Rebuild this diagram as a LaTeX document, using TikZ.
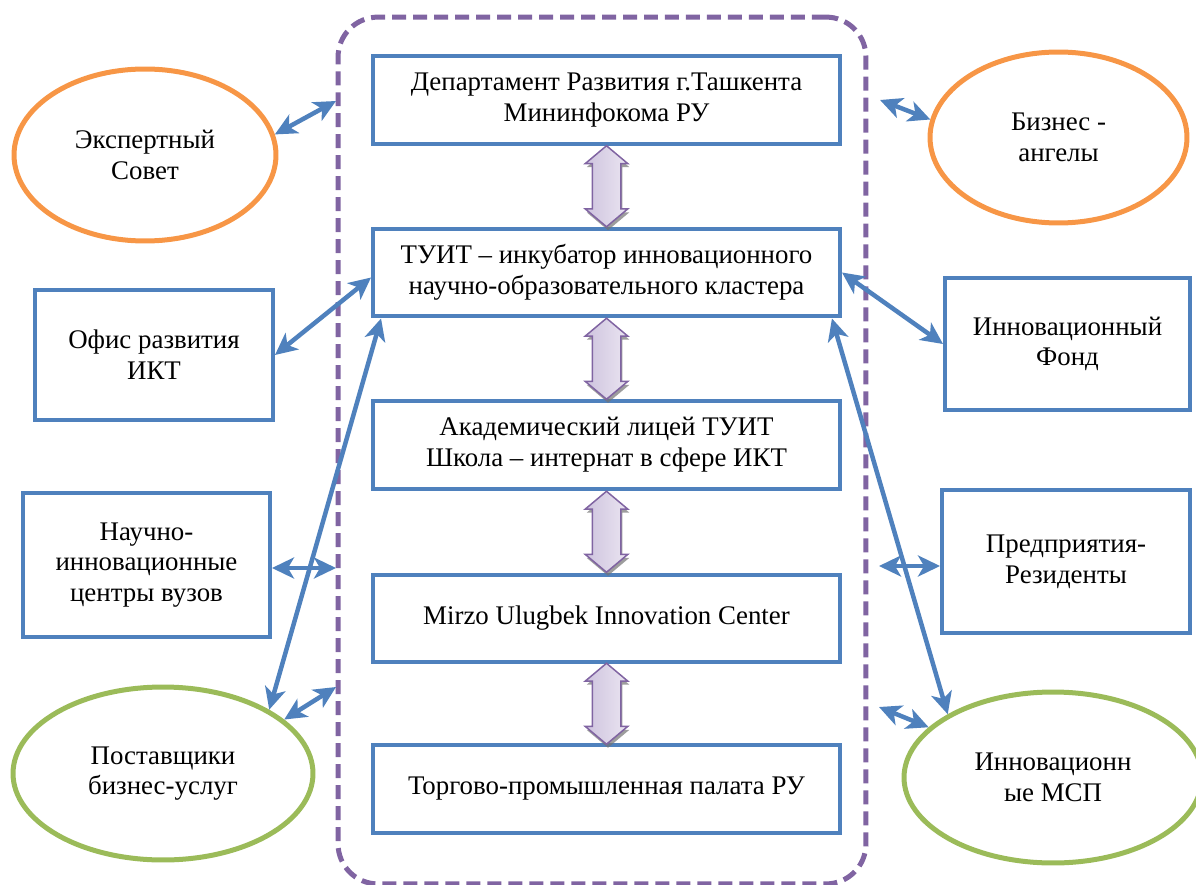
\documentclass[tikz,border=0pt]{standalone}
\usepackage{fontspec}
\setmainfont{Liberation Serif}
\usetikzlibrary{shapes.geometric,shapes.arrows,arrows.meta,shadows,calc}

\begin{document}
\begin{tikzpicture}[x=0.02cm, y=-0.02cm,
    every node/.style={font=\fontsize{15.3}{17.5}\selectfont, align=center},
    unitbox/.style={draw=boxcolor, line width=0.08cm, minimum width=9.34cm, minimum height=1.76cm},
    sidebox/.style={draw=boxcolor, line width=0.08cm},
    partner/.style={ellipse, line width=0.1cm, inner sep=0pt},
    link/.style={boxcolor, line width=0.09cm,
        {Stealth[length=0.44cm,width=0.42cm,inset=0.12cm]}-{Stealth[length=0.44cm,width=0.42cm,inset=0.12cm]}},
    updown/.style={double arrow, rotate=90, draw=framecolor, line width=0.03cm,
        minimum height=1.62cm, minimum width=0pt, inner xsep=0pt, inner ysep=0.27cm,
        double arrow head extend=0.14cm, double arrow tip angle=100,
        left color=lavdark, right color=lavlight,
        drop shadow={shadow xshift=0.03cm, shadow yshift=-0.07cm, fill=black!55, opacity=0.7}}
]
    % Define colors
    \definecolor{boxcolor}{RGB}{79, 129, 189}
    \definecolor{framecolor}{RGB}{128, 100, 162}
    \definecolor{advcolor}{RGB}{247, 150, 70}
    \definecolor{smecolor}{RGB}{155, 187, 89}
    \definecolor{lavlight}{RGB}{234, 229, 241}
    \definecolor{lavdark}{RGB}{206, 195, 222}

    \useasboundingbox (0,0) rectangle (1196,885);

    % Dashed frame of the cluster
    \node[draw=framecolor, line width=0.1cm, dash pattern=on 0.28cm off 0.14cm,
          rounded corners=0.8cm, minimum width=10.56cm, minimum height=17.34cm] (cluster) at (602,450.5) {};

    % Central column
    \node[unitbox] (dep) at (606.5,100) {Департамент Развития г.Ташкента\\Мининфокома РУ};
    \node[unitbox] (tuit) at (606.5,272.5) {ТУИТ – инкубатор инновационного\\научно-образовательного кластера};
    \node[unitbox] (lyc) at (606.5,445) {Академический лицей ТУИТ\\Школа – интернат в сфере ИКТ};
    \node[unitbox] (muic) at (606.5,618.5) {Mirzo Ulugbek Innovation Center};
    \node[unitbox] (tpp) at (606.5,789) {Торгово-промышленная палата РУ};

    % Arrows between the units
    \foreach \a/\b in {dep/tuit, tuit/lyc, lyc/muic, muic/tpp}
        \node[updown] (\a-\b) at ($(\a.south)!0.5!(\b.north)$) {};

    % Left partners
    \node[partner, draw=advcolor, minimum width=5.24cm, minimum height=3.44cm] (exp) at (145,155) {Экспертный\\Совет};
    \node[sidebox, minimum width=4.76cm, minimum height=2.6cm] (ofis) at (154,355) {Офис развития\\ИКТ};
    \node[sidebox, minimum width=4.94cm, minimum height=2.88cm] (nic) at (146.5,565) {Научно-\\инновационные\\центры вузов};
    \node[partner, draw=smecolor, minimum width=6cm, minimum height=3.46cm] (post) at (163,773.5) {Поставщики\\бизнес-услуг};

    % Right partners
    \node[partner, draw=advcolor, minimum width=5.14cm, minimum height=3.42cm] (biz) at (1058.5,137.5) {Бизнес -\\ангелы};
    \node[sidebox, minimum width=4.9cm, minimum height=2.64cm] (fond) at (1067.5,344) {Инновационный\\Фонд};
    \node[sidebox, minimum width=4.96cm, minimum height=2.86cm] (rez) at (1066,561.5) {Предприятия-\\Резиденты};
    \node[partner, draw=smecolor, minimum width=5.96cm, minimum height=3.42cm] (msp) at (1053,777.5) {Инновационн\\ые МСП};

    % Ends on the frame
    \coordinate (lexp) at (336,101);
    \coordinate (lnic) at (336,568);
    \coordinate (lpost) at (336,687);
    \coordinate (rbiz) at (880,100);
    \coordinate (rrez) at (879,566);
    \coordinate (rmsp) at (879,707);

    % Links
    \draw[link] (exp.9) -- (lexp);
    \draw[link] (ofis.east) -- ([yshift=-0.1cm]tuit.west);
    \draw[link] (nic.east |- lnic) -- (lnic);
    \draw[link] (post.24) -- (lpost);
    \draw[link] (post.31) -- ([xshift=0.2cm]tuit.south west);
    \draw[link] (biz.172) -- (rbiz);
    \draw[link] (fond.west) -- (tuit.east);
    \draw[link] (rez.west |- rrez) -- (rrez);
    \draw[link] (msp.158) -- (rmsp);
    \draw[link] (msp.149) -- ([xshift=-0.2cm]tuit.south east);
\end{tikzpicture}
\end{document}
